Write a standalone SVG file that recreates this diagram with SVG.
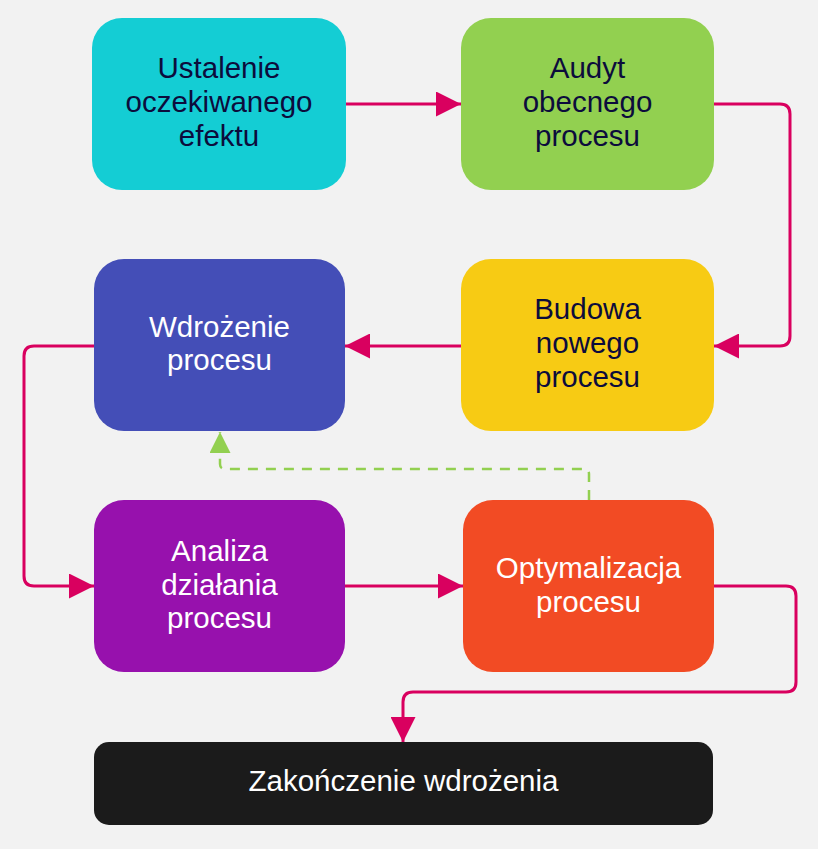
<svg xmlns="http://www.w3.org/2000/svg" width="818" height="849" viewBox="0 0 818 849">
<defs>
<style>
.lbl{font-family:"Liberation Sans",Arial,sans-serif;font-size:29.5px;text-anchor:middle}
.dk{fill:#0c0c3c}
.wt{fill:#ffffff}
.conn{fill:none;stroke:#d9005f;stroke-width:3}
.dash{fill:none;stroke:#92d050;stroke-width:2.5;stroke-dasharray:10 8}
</style>
<marker id="ap" viewBox="0 0 25 25" refX="25" refY="12.5" markerWidth="25" markerHeight="25" markerUnits="userSpaceOnUse" orient="auto">
<path d="M0,0 L25,12.5 L0,25 Z" fill="#d9005f"/>
</marker>
<marker id="ag" viewBox="0 0 21 21" refX="21" refY="10.5" markerWidth="21" markerHeight="21" markerUnits="userSpaceOnUse" orient="auto">
<path d="M0,0 L21,10.5 L0,21 Z" fill="#92d050"/>
</marker>
</defs>
<rect width="818" height="849" fill="#f2f2f2"/>
<g id="connectors">
<path class="conn" d="M346,104 H461" marker-end="url(#ap)"/>
<path class="conn" d="M714,104 H780 Q790,104 790,114 V336 Q790,346 780,346 H714" marker-end="url(#ap)"/>
<path class="conn" d="M461,346 H345" marker-end="url(#ap)"/>
<path class="conn" d="M94,346 H34 Q24,346 24,356 V576 Q24,586 34,586 H94" marker-end="url(#ap)"/>
<path class="conn" d="M345,586 H463" marker-end="url(#ap)"/>
<path class="conn" d="M714,586 H786 Q796,586 796,596 V682 Q796,692 786,692 H413 Q403,692 403,702 V742" marker-end="url(#ap)"/>
<path class="dash" d="M589,500 V474 Q589,469 584,469 H225 Q220,469 220,464 V432" marker-end="url(#ag)"/>
</g>
<g id="n1">
<rect x="92" y="18" width="254" height="172" rx="30" fill="#14cdd4"/>
<text class="lbl dk" x="219" y="78">Ustalenie</text>
<text class="lbl dk" x="219" y="112">oczekiwanego</text>
<text class="lbl dk" x="219" y="146">efektu</text>
</g>
<g id="n2">
<rect x="461" y="18" width="253" height="172" rx="30" fill="#92d050"/>
<text class="lbl dk" x="587.5" y="78">Audyt</text>
<text class="lbl dk" x="587.5" y="112">obecnego</text>
<text class="lbl dk" x="587.5" y="146">procesu</text>
</g>
<g id="n3">
<rect x="94" y="259" width="251" height="172" rx="30" fill="#444eb7"/>
<text class="lbl wt" x="219.5" y="337">Wdrożenie</text>
<text class="lbl wt" x="219.5" y="370">procesu</text>
</g>
<g id="n4">
<rect x="461" y="259" width="253" height="172" rx="30" fill="#f7cb14"/>
<text class="lbl dk" x="587.5" y="319">Budowa</text>
<text class="lbl dk" x="587.5" y="353">nowego</text>
<text class="lbl dk" x="587.5" y="387">procesu</text>
</g>
<g id="n5">
<rect x="94" y="500" width="251" height="172" rx="30" fill="#9711ad"/>
<text class="lbl wt" x="219.5" y="561">Analiza</text>
<text class="lbl wt" x="219.5" y="595">działania</text>
<text class="lbl wt" x="219.5" y="628">procesu</text>
</g>
<g id="n6">
<rect x="463" y="500" width="251" height="172" rx="30" fill="#f24b24"/>
<text class="lbl wt" x="588.5" y="578">Optymalizacja</text>
<text class="lbl wt" x="588.5" y="612">procesu</text>
</g>
<g id="n7">
<rect x="94" y="742" width="619" height="83" rx="15" fill="#1b1b1b"/>
<text class="lbl wt" x="403.5" y="791">Zakończenie wdrożenia</text>
</g>
</svg>
